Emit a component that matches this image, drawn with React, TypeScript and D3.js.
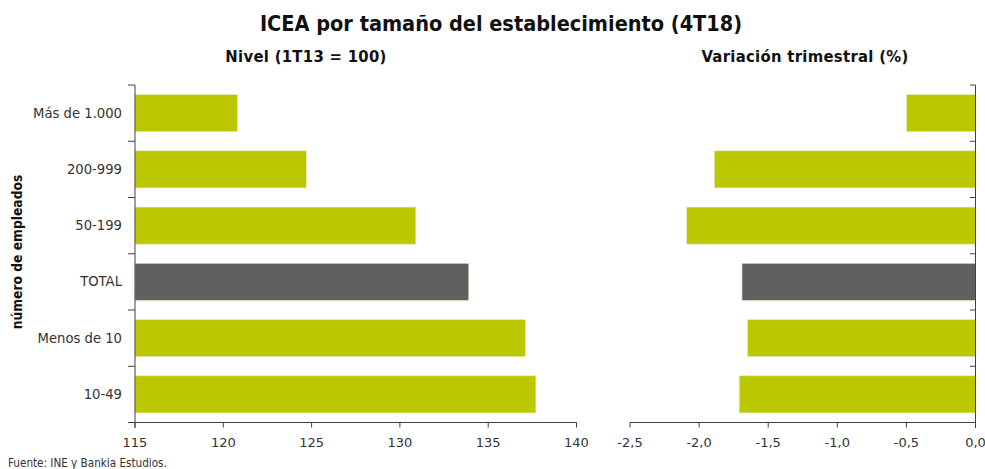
import React from "react";
import * as d3 from "d3";

const categories = ["Más de 1.000", "200-999", "50-199", "TOTAL", "Menos de 10", "10-49"];
const nivelValues = [120.8, 124.7, 130.9, 133.9, 137.1, 137.7];
const variacionValues = [-0.5, -1.89, -2.09, -1.69, -1.65, -1.71];
const nivelTicks = [115, 120, 125, 130, 135, 140];
const variacionTicks = [-2.5, -2.0, -1.5, -1.0, -0.5, 0.0];

const W = 985;
const H = 469;
const GREEN = "#bbc800";
const GRAY = "#606060";
const AXIS = "#404040";
const TXT = "#333333";
const fmtVar = (v: number) => v.toFixed(1).replace(".", ",");

export default function App() {
  const y = d3.scaleBand<string>().domain(categories).range([85, 422.5]).paddingInner(0.34).paddingOuter(0.17);
  const xL = d3.scaleLinear().domain([115, 140]).range([135, 576.5]);
  const xR = d3.scaleLinear().domain([-2.5, 0]).range([630, 975.5]);
  const step = y.step();
  const bounds = categories.map((_, i) => 85 + i * step).concat([422.5]);
  const font = "'DejaVu Sans', Verdana, sans-serif";
  const cond = "'DejaVu Sans Condensed', 'DejaVu Sans', sans-serif";
  const axisY = 422.5;

  return (
    <svg width={W} height={H} style={{ position: "absolute", left: 0, top: 0, background: "#fff" }}>
      <text x={501} y={31} textAnchor="middle" fontFamily={cond} fontWeight="bold" fontSize={21.5} fill="#111">
        ICEA por tamaño del establecimiento (4T18)
      </text>
      <text x={306} y={62} textAnchor="middle" fontFamily={cond} fontWeight="bold" fontSize={16.5} letterSpacing={0.3} fill="#111">
        Nivel (1T13 = 100)
      </text>
      <text x={805} y={62} textAnchor="middle" fontFamily={cond} fontWeight="bold" fontSize={16.5} letterSpacing={0.3} fill="#111">
        Variación trimestral (%)
      </text>
      <text transform={`translate(22,${252}) rotate(-90)`} textAnchor="middle" fontFamily={cond} fontWeight="bold" fontSize={13.7} fill="#111">
        número de empleados
      </text>

      {/* left bars */}
      {categories.map((c, i) => (
        <rect key={"l" + c} x={xL(115)} y={y(c)} width={xL(nivelValues[i]) - xL(115)} height={y.bandwidth()}
          fill={c === "TOTAL" ? GRAY : GREEN} stroke="#e8ecc0" strokeWidth={0.6} />
      ))}
      {/* right bars */}
      {categories.map((c, i) => (
        <rect key={"r" + c} x={xR(variacionValues[i])} y={y(c)} width={xR(0) - xR(variacionValues[i])} height={y.bandwidth()}
          fill={c === "TOTAL" ? GRAY : GREEN} stroke="#e8ecc0" strokeWidth={0.6} />
      ))}

      {/* category labels */}
      {categories.map((c) => (
        <text key={"t" + c} x={122} y={(y(c) as number) + y.bandwidth() / 2} dy="0.35em" textAnchor="end"
          fontFamily={font} fontSize={13.2} fill={TXT}>
          {c}
        </text>
      ))}

      {/* left y axis */}
      <line x1={135} x2={135} y1={85} y2={428} stroke={AXIS} strokeWidth={1} />
      {bounds.map((b, i) => (
        <line key={"yl" + i} x1={128} x2={135} y1={b} y2={b} stroke={AXIS} strokeWidth={1} />
      ))}
      {/* right y axis */}
      <line x1={975.5} x2={975.5} y1={85} y2={428} stroke={AXIS} strokeWidth={1} />
      {bounds.map((b, i) => (
        <line key={"yr" + i} x1={970} x2={975.5} y1={b} y2={b} stroke={AXIS} strokeWidth={1} />
      ))}

      {/* left x axis */}
      <line x1={xL(115)} x2={xL(140)} y1={axisY} y2={axisY} stroke={AXIS} strokeWidth={1} />
      {nivelTicks.map((t) => (
        <g key={"xl" + t}>
          <line x1={xL(t)} x2={xL(t)} y1={axisY} y2={axisY + 5} stroke={AXIS} strokeWidth={1} />
          <text x={xL(t)} y={442} dy="0.35em" textAnchor="middle" fontFamily={font} fontSize={13} fill={TXT}>{t}</text>
        </g>
      ))}
      {/* right x axis */}
      <line x1={xR(-2.5)} x2={xR(0)} y1={axisY} y2={axisY} stroke={AXIS} strokeWidth={1} />
      {variacionTicks.map((t) => (
        <g key={"xr" + t}>
          <line x1={xR(t)} x2={xR(t)} y1={axisY} y2={axisY + 5} stroke={AXIS} strokeWidth={1} />
          <text x={xR(t)} y={442} dy="0.35em" textAnchor="middle" fontFamily={font} fontSize={13} fill={TXT}>{fmtVar(t)}</text>
        </g>
      ))}

      <text x={8} y={467} fontFamily={cond} fontSize={11.6} fill={TXT}>Fuente: INE y Bankia Estudios.</text>
    </svg>
  );
}
